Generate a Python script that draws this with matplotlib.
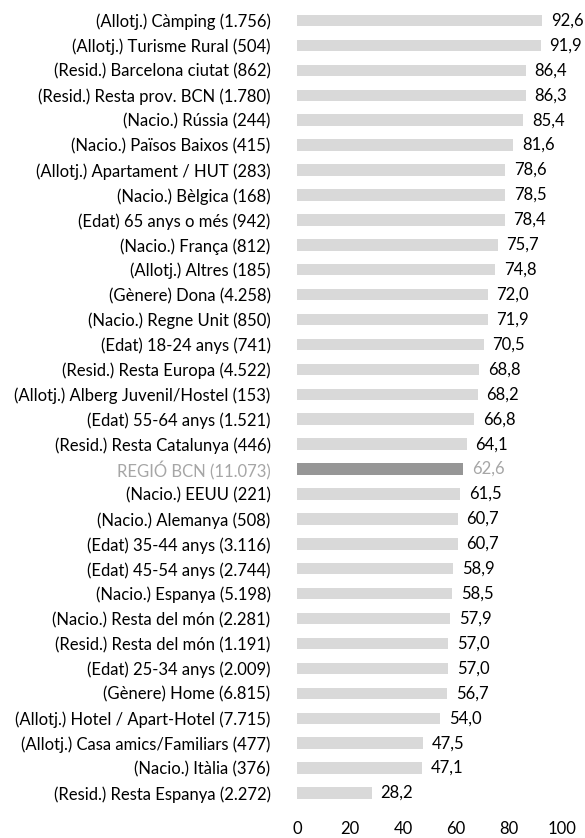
import matplotlib
matplotlib.use("Agg")
import matplotlib.pyplot as plt

plt.rcParams["font.family"] = ["Lato", "DejaVu Sans"]

labels = [
    "(Allotj.) Càmping (1.756)",
    "(Allotj.) Turisme Rural (504)",
    "(Resid.) Barcelona ciutat (862)",
    "(Resid.) Resta prov. BCN (1.780)",
    "(Nacio.) Rússia (244)",
    "(Nacio.) Països Baixos (415)",
    "(Allotj.) Apartament / HUT (283)",
    "(Nacio.) Bèlgica (168)",
    "(Edat) 65 anys o més (942)",
    "(Nacio.) França (812)",
    "(Allotj.) Altres (185)",
    "(Gènere) Dona (4.258)",
    "(Nacio.) Regne Unit (850)",
    "(Edat) 18-24 anys (741)",
    "(Resid.) Resta Europa (4.522)",
    "(Allotj.) Alberg Juvenil/Hostel (153)",
    "(Edat) 55-64 anys (1.521)",
    "(Resid.) Resta Catalunya (446)",
    "REGIÓ BCN (11.073)",
    "(Nacio.) EEUU (221)",
    "(Nacio.) Alemanya (508)",
    "(Edat) 35-44 anys (3.116)",
    "(Edat) 45-54 anys (2.744)",
    "(Nacio.) Espanya (5.198)",
    "(Nacio.) Resta del món (2.281)",
    "(Resid.) Resta del món (1.191)",
    "(Edat) 25-34 anys (2.009)",
    "(Gènere) Home (6.815)",
    "(Allotj.) Hotel / Apart-Hotel (7.715)",
    "(Allotj.) Casa amics/Familiars (477)",
    "(Nacio.) Itàlia (376)",
    "(Resid.) Resta Espanya (2.272)",
]
values = [92.6, 91.9, 86.4, 86.3, 85.4, 81.6, 78.6, 78.5, 78.4, 75.7, 74.8, 72.0,
          71.9, 70.5, 68.8, 68.2, 66.8, 64.1, 62.6, 61.5, 60.7, 60.7, 58.9, 58.5,
          57.9, 57.0, 57.0, 56.7, 54.0, 47.5, 47.1, 28.2]
highlight = "REGIÓ BCN (11.073)"
xticks = [0, 20, 40, 60, 80, 100]

BAR = "#d9d9d9"
BAR_HI = "#969696"
TXT = "#000000"
TXT_HI = "#a6a6a6"
FS = 12

fig = plt.figure(figsize=(5.85, 8.38), dpi=100)
ax = fig.add_axes([0.5077, 0.0388, 0.453, 0.9516])

ypos = list(range(len(labels)))
colors = [BAR_HI if l == highlight else BAR for l in labels]
ax.barh(ypos, values, height=0.46, color=colors)
ax.set_ylim(len(labels) - 0.5, -0.5)
ax.set_xlim(0, 100)

for y, v, l in zip(ypos, values, labels):
    c = TXT_HI if l == highlight else TXT
    ax.text(v + 3.3, y, f"{v:.1f}".replace(".", ","), va="center", ha="left",
            fontsize=FS, color=c)

ax.set_yticks(ypos)
ax.set_yticklabels(labels, fontsize=FS)
for t, l in zip(ax.get_yticklabels(), labels):
    t.set_color(TXT_HI if l == highlight else TXT)
ax.set_xticks(xticks)
ax.set_xticklabels([str(x) for x in xticks], fontsize=FS)
ax.tick_params(axis="both", length=0)
ax.tick_params(axis="y", pad=19)
ax.tick_params(axis="x", pad=11)
for s in ax.spines.values():
    s.set_visible(False)

fig.savefig("out.png", dpi=100)
